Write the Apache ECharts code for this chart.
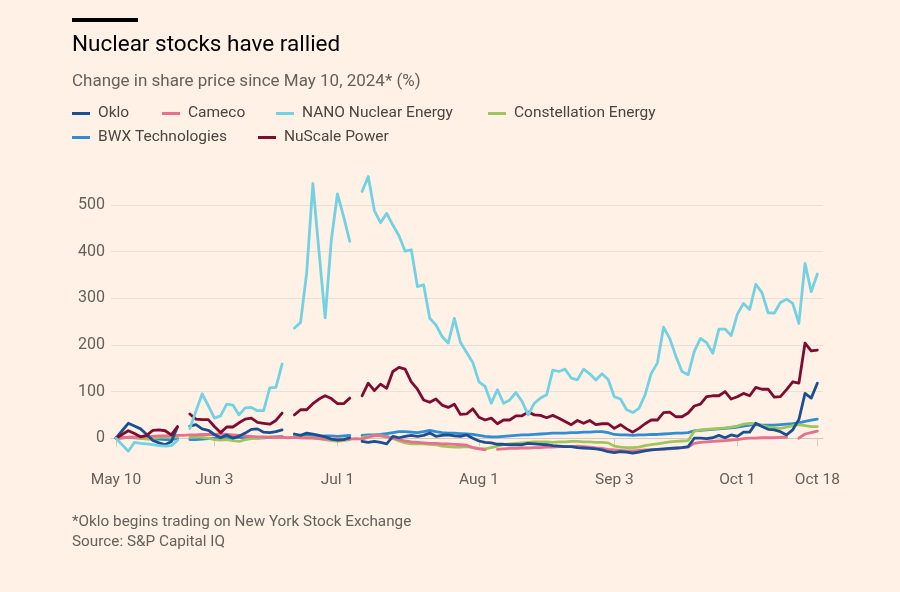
<!DOCTYPE html>
<html><head><meta charset="utf-8">
<script src="https://cdn.jsdelivr.net/npm/echarts@6/dist/echarts.min.js"></script>
<style>html,body{margin:0;padding:0;background:#fff1e5;}#c{width:900px;height:592px;}</style>
</head><body><div id="c"></div>
<script>
// Trading-day axis: weekdays from May 10 to Oct 18, 2024 (both US & Canada closed days removed)
const startDate = '2024-05-10';
const endDate = '2024-10-18';
const closedDates = ['2024-09-02'];
const tickDates = ['2024-05-10','2024-06-03','2024-07-01','2024-08-01','2024-09-03','2024-10-01','2024-10-18'];
const tickLabels = ['May 10','Jun 3','Jul 1','Aug 1','Sep 3','Oct 1','Oct 18'];
const yTicks = [0,100,200,300,400,500];

const oklo = [0,16,32,26,20,8,-5,-10,-14,-7,
 24,null,26,29,20,17,8,1,7,0,
 4,11,19,20,13,12,14,18,null,9,
 6,11,9,6,3,-2,-4,-3,1,null,
 -7,-9,-7,-9,-12,4,1,4,6,4,
 6,11,4,6,7,5,4,7,0,-6,
 -9,-10,-13,-13,-14,-14,-14,-11,-12,-13,
 -14,-16,-17,-18,-18,-20,-21,-22,-23,-25,
 -29,-31,-29,-30,-32,-30,-27,-25,-24,-23,
 -22,-21,-20,-18,0,0,-1,1,6,1,
 7,4,13,13,32,25,19,18,14,7,
 18,40,96,86,118];
const cameco = [0,1,2,2,3,3,4,5,5,6,
 6,6,7,7,8,8,8,9,8,7,
 6,5,4,3,3,2,2,2,1,2,
 1,0,0,-1,-2,-2,-1,-2,-2,-1,
 -2,2,6,5,3,0,-3,-6,-8,-9,
 -10,-11,-11,-12,-12,-13,-14,-15,-20,-23,
 -25,null,-24,-23,-22,-22,-21,-21,-20,-20,
 -19,-19,-18,-18,-18,-17,-18,-19,-21,-22,
 -24,-25,-26,-27,-27,-26,-25,-25,-24,-24,
 -23,-22,-20,-19,-11,-9,-8,-7,-6,-5,
 -4,-3,-1,0,0,1,1,1,2,2,
 null,0,9,12,15];
const nano = [0,-14,-28,-9,-11,-12,-14,-16,-17,-16,
 -5,null,21,58,95,70,43,48,73,71,
 50,65,66,59,59,108,109,159,null,236,
 248,355,546,400,258,425,524,475,422,null,
 529,561,488,462,482,457,434,401,404,325,
 329,257,243,218,204,257,205,184,162,121,
 111,75,104,75,82,98,79,50,75,86,
 93,146,143,148,129,125,148,138,125,138,
 126,89,84,61,55,64,93,139,161,238,
 214,176,143,136,186,214,205,182,234,234,
 220,266,289,276,330,312,269,268,291,298,
 289,246,375,314,352];
const constellation = [0,1,2,2,0,-2,-1,2,3,2,
 3,null,2,3,2,0,-3,-4,-3,-5,
 -7,-3,-1,0,2,3,2,3,null,4,
 3,2,1,-1,-3,-5,-6,-5,-3,null,
 2,4,5,6,4,0,-6,-10,-12,-12,
 -12,-13,-14,-17,-18,-19,-19,-18,-20,-22,
 -23,-20,-17,-14,-12,-11,-10,-9,-8,-8,
 -8,-9,-8,-8,-7,-7,-8,-8,-9,-9,
 -10,-17,-19,-20,-20,-19,-16,-14,-12,-10,
 -8,-7,-6,-5,15,18,19,20,21,22,
 24,26,30,32,31,27,24,22,21,24,
 27,29,27,25,25];
const bwx = [0,1,2,1,0,-1,-2,-2,-3,-3,
 -1,null,-3,-3,-2,-1,0,1,1,2,
 2,1,1,0,1,2,3,4,null,6,
 5,6,5,4,5,5,4,5,6,null,
 6,7,7,8,10,12,14,14,13,12,
 14,17,14,12,11,11,10,9,8,6,
 4,3,3,4,5,6,7,7,8,9,
 10,11,11,11,12,12,13,13,14,14,
 12,8,7,7,6,7,7,8,8,9,
 10,11,11,12,16,17,18,19,20,21,
 22,24,26,28,29,28,28,28,29,30,
 31,33,36,39,41];
const nuscale = [0,8,16,10,3,6,17,18,16,7,
 25,null,52,41,40,40,25,12,24,24,
 33,41,43,34,32,30,38,54,null,50,
 61,61,74,84,91,85,74,74,86,null,
 91,118,102,116,107,143,152,148,121,105,
 82,77,84,71,66,73,51,52,63,45,
 39,43,31,39,39,48,48,56,50,49,
 44,49,43,36,29,38,32,38,29,31,
 31,21,29,20,13,21,31,39,39,55,
 56,46,46,54,69,73,89,91,91,100,
 84,89,96,91,109,105,105,88,89,104,
 121,118,204,187,189];

// build trading-day categories
const dates = [];
(function(){
  const d = new Date(startDate + 'T00:00:00Z');
  const e = new Date(endDate + 'T00:00:00Z');
  while (d <= e) {
    const wd = d.getUTCDay();
    const s = d.toISOString().slice(0,10);
    if (wd !== 0 && wd !== 6 && closedDates.indexOf(s) < 0) dates.push(s);
    d.setUTCDate(d.getUTCDate() + 1);
  }
})();
const tickIdx = tickDates.map(t => dates.indexOf(t));
const labelOf = {};
tickIdx.forEach((k, j) => labelOf[k] = tickLabels[j]);

const FONT = 'Roboto';
const colors = {
  'Oklo':'#1b4f8f', 'Cameco':'#e8708f', 'NANO Nuclear Energy':'#72d1e2',
  'Constellation Energy':'#a0c55c', 'BWX Technologies':'#2f8dd3', 'NuScale Power':'#7e0c31'
};
const seriesData = {
  'Oklo': oklo, 'Cameco': cameco, 'NANO Nuclear Energy': nano,
  'Constellation Energy': constellation, 'BWX Technologies': bwx, 'NuScale Power': nuscale
};
const drawOrder = ['BWX Technologies','Constellation Energy','Cameco','Oklo','NuScale Power','NANO Nuclear Energy'];

const series = drawOrder.map(n => ({
  name: n, type: 'line', showSymbol: false, symbol: 'none', connectNulls: false,
  lineStyle: { width: 2.8, color: colors[n], cap: 'round', join: 'round' },
  itemStyle: { color: colors[n] },
  data: seriesData[n].map((v, i) => [i, v === null ? '-' : v])
}));

const legendPos = [
  ['Oklo', 72, 105], ['Cameco', 162, 105], ['NANO Nuclear Energy', 276, 105], ['Constellation Energy', 488, 105],
  ['BWX Technologies', 72, 129], ['NuScale Power', 258, 129]
];
const legends = legendPos.map(p => ({
  data: [p[0]], left: p[1], top: p[2], padding: 0, icon: 'rect', itemWidth: 18, itemHeight: 3,
  itemStyle: { color: colors[p[0]] },
  textStyle: { fontFamily: FONT, fontSize: 15.5, color: '#4a4542', padding: [0,0,0,3], lineHeight: 17 },
  selectedMode: false
}));

const chart = echarts.init(document.getElementById('c'), null, { renderer: 'canvas' });
chart.setOption({
  backgroundColor: '#fff1e5',
  animation: false,
  textStyle: { fontFamily: FONT },
  legend: legends,
  graphic: [
    { type: 'rect', left: 72, top: 18, shape: { width: 66, height: 4 }, style: { fill: '#000' } },
    { type: 'text', left: 72, top: 34, style: { text: 'Nuclear stocks have rallied', font: '22.5px Roboto', fill: '#000' } },
    { type: 'text', left: 72, top: 73, style: { text: 'Change in share price since May 10, 2024* (%)', font: '17px Roboto', fill: '#66605c' } },
    { type: 'text', left: 72, top: 515, style: { text: '*Oklo begins trading on New York Stock Exchange', font: '15.3px Roboto', fill: '#66605c' } },
    { type: 'text', left: 72, top: 535, style: { text: 'Source: S&P Capital IQ', font: '15.3px Roboto', fill: '#66605c' } }
  ],
  grid: { left: 111, right: 77, top: 170, bottom: 137, containLabel: false },
  xAxis: {
    type: 'value', min: -0.81, max: 114.92,
    splitLine: { show: false },
    axisLine: { show: true, lineStyle: { color: '#d6c9bd', width: 1 } },
    axisTick: { show: true, customValues: tickIdx, length: 8, lineStyle: { color: '#d6c9bd' } },
    axisLabel: { customValues: tickIdx, formatter: v => labelOf[v] || '', fontFamily: FONT, fontSize: 15.5, color: '#66605c', margin: 17 }
  },
  yAxis: {
    type: 'value', min: -36, max: 575,
    axisLine: { show: false },
    axisTick: { show: false, customValues: yTicks },
    axisLabel: { customValues: yTicks, fontFamily: FONT, fontSize: 16, color: '#66605c', margin: 6 },
    splitLine: { show: true, lineStyle: { color: '#ebdfd4', width: 1 } }
  },
  series: series
});
</script></body></html>
